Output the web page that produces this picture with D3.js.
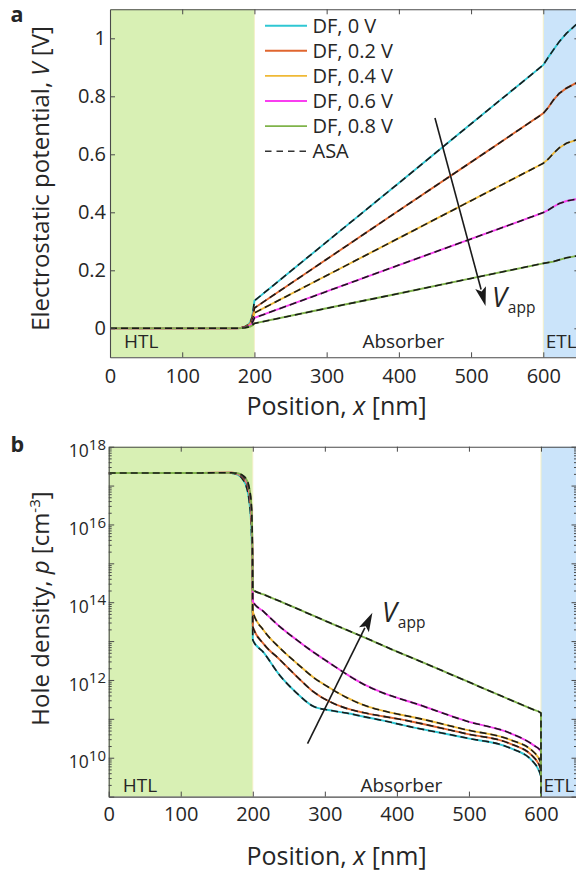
<!DOCTYPE html>
<html><head><meta charset="utf-8">
<script src="https://cdn.jsdelivr.net/npm/d3@7"></script>
<style>body{margin:0;background:#fff}svg{display:block}text{font-family:"Open Sans","Noto Sans",sans-serif;fill:#262626}</style>
</head><body><div id="c"></div>
<script>
// ---------- DATA ----------
const seriesNames = ["DF, 0 V","DF, 0.2 V","DF, 0.4 V","DF, 0.6 V","DF, 0.8 V"];
const seriesColors = ["#2fc7d3","#e0662f","#efb936","#f93ef0","#7fb34a"];
const legendASA = "ASA";

// Panel a: electrostatic potential V [V]
const potX = [0,100,175,182,187,191,194,197,200,300,400,500,600,607,614,622,632,645,650];
const pot0V  = [0,0,0,0.002,0.006,0.012,0.020,0.040,0.095,0.298,0.501,0.705,0.908,0.935,0.960,0.988,1.017,1.046,1.055];
const pot02V = [0,0,0,0.002,0.005,0.010,0.016,0.032,0.070,0.238,0.406,0.573,0.741,0.762,0.787,0.810,0.828,0.845,0.849];
const pot04V = [0,0,0,0.002,0.004,0.008,0.013,0.025,0.053,0.182,0.311,0.440,0.569,0.584,0.603,0.622,0.638,0.649,0.652];
const pot06V = [0,0,0,0.001,0.003,0.006,0.010,0.018,0.036,0.127,0.218,0.308,0.399,0.408,0.419,0.430,0.439,0.445,0.447];
const pot08V = [0,0,0,0.001,0.002,0.004,0.006,0.010,0.017,0.069,0.120,0.172,0.224,0.227,0.230,0.236,0.243,0.249,0.251];
const potSeries = [pot0V,pot02V,pot04V,pot06V,pot08V];
const potTicksY = [0,0.2,0.4,0.6,0.8,1];
const posTicks = [0,100,200,300,400,500,600];

// Panel b: hole density p [cm^-3]
const holeX = [0,100,170,180,186,191,195,198,199.5,200,215,237,261,284,307,330,353,380,404,418,497,557,589,600,600.01,650];
const hole0V  = [2.1e17,2.1e17,2.09e17,1.86e17,1.45e17,9.5e16,4.0e16,7.9e15,3.2e14,1.07e13,5.1e12,1.35e12,4.6e11,2.1e11,1.66e11,1.41e11,1.15e11,9.1e10,7.2e10,6.3e10,3.2e10,1.78e10,7.9e9,3.3e9,1e7,1e7];
const hole02V = [2.1e17,2.1e17,2.14e17,1.95e17,1.62e17,1.2e17,6.6e16,1.78e16,1.0e15,2.34e13,8.5e12,3.4e12,1.23e12,5.0e11,2.75e11,1.86e11,1.45e11,1.17e11,9.8e10,8.7e10,4.1e10,2.3e10,1.07e10,4.9e9,1e7,1e7];
const hole04V = [2.1e17,2.1e17,2.14e17,2.0e17,1.7e17,1.29e17,7.4e16,2.24e16,1.26e15,5.75e13,1.9e13,6.8e12,2.7e12,1.17e12,6.2e11,3.55e11,2.3e11,1.62e11,1.29e11,1.15e11,5.2e10,2.9e10,1.45e10,7.2e9,1e7,1e7];
const hole06V = [2.1e17,2.1e17,2.14e17,2.0e17,1.74e17,1.35e17,7.9e16,2.6e16,1.58e15,1.05e14,5.75e13,2.4e13,1.07e13,5.2e12,2.7e12,1.41e12,7.9e11,4.7e11,3.3e11,2.75e11,8.7e10,4.3e10,2.14e10,1.45e10,1e7,1e7];
const hole08V = [2.1e17,2.1e17,2.14e17,2.04e17,1.82e17,1.45e17,8.9e16,3.2e16,2.5e15,2.1e14,1.58e14,1.07e14,6.9e13,4.5e13,2.95e13,1.95e13,1.29e13,7.8e12,5.0e12,3.9e12,9.3e11,3.1e11,1.74e11,1.41e11,1e7,1e7];
const holeSeries = [hole0V,hole02V,hole04V,hole06V,hole08V];
const holeLabelExps = [10,12,14,16,18];

const regionNames = ["HTL","Absorber","ETL"];
const regionBounds = [0,200,600,650];
const vappLabel = "V", vappSub = "app";

// ---------- LAYOUT ----------
const W=576,H=876;
const svg=d3.select("#c").append("svg").attr("width",W).attr("height",H);
const defs=svg.append("defs");
const axisColor="#4a4a4a";
const FS_TICK=20, FS_TITLE_X=25, FS_TITLE_Y=24, FS_LEG=20, FS_REG=19;

const A={l:110,r:579.4,t:9.3,b:357.3};
const B={l:108.7,r:577,t:446.7,b:796.6};
const xA=d3.scaleLinear([0,650],[A.l,A.r]);
const yA=d3.scaleLinear([-0.1,1.1],[A.b,A.t]);
const xB=d3.scaleLinear([0,650],[B.l,B.r]);
const yB=d3.scaleLog([1e9,1e18],[B.b,B.t]);

function clip(id,P){defs.append("clipPath").attr("id",id).append("rect").attr("x",P.l).attr("y",P.t).attr("width",P.r-P.l).attr("height",P.b-P.t);}
clip("ca",A);clip("cb",B);

function regions(g,x,P){
  g.append("rect").attr("x",x(regionBounds[0])).attr("y",P.t).attr("width",x(regionBounds[1])-x(regionBounds[0])).attr("height",P.b-P.t).attr("fill","#d8f0b4");
  g.append("rect").attr("x",x(regionBounds[2])).attr("y",P.t).attr("width",x(regionBounds[3])-x(regionBounds[2])).attr("height",P.b-P.t).attr("fill","#cbe4fa");
  g.append("line").attr("x1",x(200)).attr("x2",x(200)).attr("y1",P.t).attr("y2",P.b).attr("stroke","#f4f0c8").attr("stroke-width",1);
  g.append("line").attr("x1",x(600)).attr("x2",x(600)).attr("y1",P.t).attr("y2",P.b).attr("stroke","#f4f0c8").attr("stroke-width",1);
}

function drawLines(g,xs,series,x,y,curve){
  const line=d3.line().x(d=>x(d[0])).y(d=>y(d[1])).curve(curve);
  series.forEach((s,i)=>{
    const pts=xs.map((v,k)=>[v,s[k]]);
    g.append("path").attr("d",line(pts)).attr("fill","none").attr("stroke",seriesColors[i]).attr("stroke-width",1.9);
    g.append("path").attr("d",line(pts)).attr("fill","none").attr("stroke","#1a1a1a").attr("stroke-width",1.6).attr("stroke-dasharray","7,4");
  });
}

function regionLabels(g,x,base){
  g.append("text").attr("x",x(0)+14).attr("y",base).attr("font-size",FS_REG).text(regionNames[0]);
  g.append("text").attr("x",x(400)+4.5).attr("y",base).attr("font-size",FS_REG).attr("text-anchor","middle").text(regionNames[1]);
  g.append("text").attr("x",x(600)+2.5).attr("y",base).attr("font-size",FS_REG).text(regionNames[2]);
}

function arrow(g,x1,y1,x2,y2){
  const dx=x2-x1,dy=y2-y1,L=Math.hypot(dx,dy),ux=dx/L,uy=dy/L,hl=19,hw=5.5;
  const bx=x2-ux*hl,by=y2-uy*hl;
  g.append("line").attr("x1",x1).attr("y1",y1).attr("x2",bx+ux*2).attr("y2",by+uy*2).attr("stroke","#1a1a1a").attr("stroke-width",1.6);
  g.append("path").attr("d",`M${x2},${y2}L${bx-uy*hw},${by+ux*hw}L${bx+ux*4},${by+uy*4}L${bx+uy*hw},${by-ux*hw}Z`).attr("fill","#1a1a1a");
}

function styleAxis(ax){
  ax.selectAll(".domain").attr("stroke",axisColor).attr("stroke-width",1.1);
  ax.selectAll(".tick line").attr("stroke",axisColor).attr("stroke-width",1);
  ax.selectAll("text").attr("font-size",FS_TICK).attr("font-family","'Open Sans'").attr("fill","#262626");
}

// ---------- PANEL A ----------
const ga=svg.append("g");
regions(ga,xA,A);
const la=ga.append("g").attr("clip-path","url(#ca)");
drawLines(la,potX,potSeries,xA,yA,d3.curveLinear);
regionLabels(ga,xA,348.3);

let ax;
ax=ga.append("g").attr("transform",`translate(0,${A.b})`).call(d3.axisBottom(xA).tickValues(posTicks).tickSize(-5).tickSizeOuter(0).tickPadding(11.6).tickFormat(d3.format("d")));styleAxis(ax);
ax=ga.append("g").attr("transform",`translate(0,${A.t})`).call(d3.axisTop(xA).tickValues(posTicks.slice(1)).tickSize(-5).tickSizeOuter(0).tickFormat(""));styleAxis(ax);
ax=ga.append("g").attr("transform",`translate(${A.l},0)`).call(d3.axisLeft(yA).tickValues(potTicksY).tickSize(-5).tickSizeOuter(0).tickPadding(4).tickFormat(d=>d===1?"1":d===0?"0":d3.format(".1f")(d)));styleAxis(ax);
ax=ga.append("g").attr("transform",`translate(${A.r},0)`).call(d3.axisRight(yA).tickValues(potTicksY).tickSize(-5).tickSizeOuter(0).tickFormat(""));styleAxis(ax);

// legend
const lg=ga.append("g");
seriesNames.concat([legendASA]).forEach((n,i)=>{
  const yy=25.7+i*25.1;
  const ln=lg.append("line").attr("x1",265).attr("x2",307).attr("y1",yy).attr("y2",yy).attr("stroke-width",i<5?1.9:1.6)
    .attr("stroke",i<5?seriesColors[i]:"#333");
  if(i===5) ln.attr("stroke-dasharray","6.5,5");
  lg.append("text").attr("x",312.5).attr("y",yy).attr("dy","0.36em").attr("font-size",FS_LEG).text(n);
});

arrow(ga,xA(450),yA(0.725),xA(520),yA(0.077));
const va=ga.append("text").attr("x",492).attr("y",306.7).attr("font-size",27);
va.append("tspan").attr("font-style","italic").text(vappLabel);
va.append("tspan").attr("font-size",15.5).attr("dx",1).attr("dy",6.5).text(vappSub);

ga.append("text").attr("transform","translate(48.5,178.5) rotate(-90)").attr("text-anchor","middle").attr("font-size",FS_TITLE_Y)
  .call(t=>{t.append("tspan").text("Electrostatic potential, ");t.append("tspan").attr("font-style","italic").text("V");t.append("tspan").text(" [V]");});
ga.append("text").attr("x",336.5).attr("y",415).attr("text-anchor","middle").attr("font-size",FS_TITLE_X)
  .call(t=>{t.append("tspan").text("Position, ");t.append("tspan").attr("font-style","italic").text("x");t.append("tspan").text(" [nm]");});
svg.append("text").attr("x",10.5).attr("y",21.7).attr("font-size",21.5).attr("font-family","Lato").attr("font-weight","bold").text("a");

// ---------- PANEL B ----------
const gb=svg.append("g");
regions(gb,xB,B);
const lb=gb.append("g").attr("clip-path","url(#cb)");
drawLines(lb,holeX,holeSeries,xB,yB,d3.curveMonotoneX);
regionLabels(gb,xB,791.7);

ax=gb.append("g").attr("transform",`translate(0,${B.b})`).call(d3.axisBottom(xB).tickValues(posTicks).tickSize(-5).tickSizeOuter(0).tickPadding(10.3).tickFormat(d3.format("d")));styleAxis(ax);
ax=gb.append("g").attr("transform",`translate(0,${B.t})`).call(d3.axisTop(xB).tickValues(posTicks.slice(1)).tickSize(-5).tickSizeOuter(0).tickFormat(""));styleAxis(ax);

const majors=d3.range(9,19).map(e=>Math.pow(10,e));
const minors=[];d3.range(9,18).forEach(e=>{for(let m=2;m<=9;m++)minors.push(m*Math.pow(10,e));});
[[d3.axisLeft,B.l],[d3.axisRight,B.r]].forEach(([f,xx])=>{
  let a1=gb.append("g").attr("transform",`translate(${xx},0)`).call(f(yB).tickValues(majors).tickSize(-5.5).tickSizeOuter(0).tickFormat(""));styleAxis(a1);
  let a2=gb.append("g").attr("transform",`translate(${xx},0)`).call(f(yB).tickValues(minors).tickSize(-3).tickSizeOuter(0).tickFormat(""));styleAxis(a2);
  a2.select(".domain").remove();
});
holeLabelExps.forEach(e=>{
  const yy=yB(Math.pow(10,e));
  const t=gb.append("text").attr("x",106).attr("y",yy+10.6).attr("text-anchor","end").attr("font-size",17.5);
  t.append("tspan").text("10");
  t.append("tspan").attr("font-size",15).attr("dy",-7.5).text(String(e));
});

arrow(gb,xB(276),yB(Math.pow(10,10.36)),xB(366),yB(Math.pow(10,13.73)));
const vb=gb.append("text").attr("x",382).attr("y",621.7).attr("font-size",27);
vb.append("tspan").attr("font-style","italic").text(vappLabel);
vb.append("tspan").attr("font-size",15.5).attr("dx",1).attr("dy",6.5).text(vappSub);

gb.append("text").attr("transform","translate(48.5,608.5) rotate(-90)").attr("text-anchor","middle").attr("font-size",FS_TITLE_Y)
  .call(t=>{t.append("tspan").text("Hole density, ");t.append("tspan").attr("font-style","italic").text("p");t.append("tspan").text(" [cm");t.append("tspan").attr("font-size",15).attr("dy",-9).text("-3");t.append("tspan").attr("dy",9).text("]");});
gb.append("text").attr("x",336.5).attr("y",865).attr("text-anchor","middle").attr("font-size",FS_TITLE_X)
  .call(t=>{t.append("tspan").text("Position, ");t.append("tspan").attr("font-style","italic").text("x");t.append("tspan").text(" [nm]");});
svg.append("text").attr("x",10.5).attr("y",451.7).attr("font-size",21.5).attr("font-family","Lato").attr("font-weight","bold").text("b");
</script></body></html>
